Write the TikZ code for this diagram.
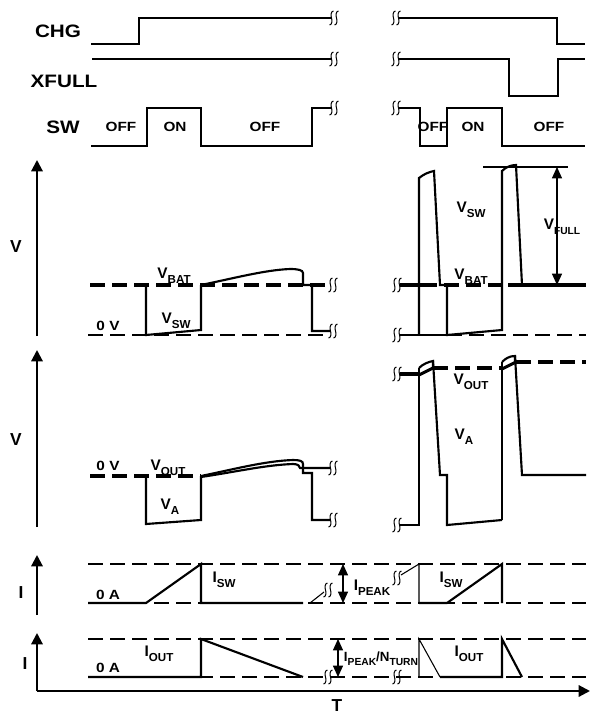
\documentclass[tikz,border=0pt]{standalone}
\usepackage{fontspec}
\setmainfont{Liberation Sans}
\newfontfamily\wf{Liberation Sans}[FakeStretch=1.15]
\usetikzlibrary{arrows.meta}
\newcommand{\sbx}[1]{\raisebox{-0.3em}{\fontsize{8.7}{9}\selectfont #1}}
\newcommand{\sbs}[1]{\raisebox{-0.3em}{\fontsize{7.7}{8}\selectfont #1}}
\tikzset{
  wave/.style={line width=1.6pt},
  thinw/.style={line width=0.8pt},
  dsh/.style={line width=1.5pt, dash pattern=on 11.5pt off 5pt},
  dshthick/.style={line width=2.3pt, dash pattern=on 11.5pt off 5pt},
  big/.style={font=\wf\bfseries\fontsize{13.5}{14}\selectfont, inner sep=0pt},
  axl/.style={font=\bfseries\fontsize{13}{14}\selectfont, inner sep=0pt},
  lbl/.style={font=\bfseries\fontsize{11.5}{12}\selectfont, inner sep=0pt},
  sml/.style={font=\wf\bfseries\fontsize{10}{11}\selectfont, inner sep=0pt},
  tip/.style={-{Triangle[length=8.5pt,width=8.5pt]}},
  dtip/.style={{Triangle[length=8.5pt,width=7.5pt]}-{Triangle[length=8.5pt,width=7.5pt]}},
  brk/.pic={
    \draw[line width=0.75pt] (-4.5,7) .. controls (-2,7) and (-1.6,2.5) .. (-2.5,0) .. controls (-3.4,-2.5) and (-3,-7) .. (-0.5,-7);
    \draw[line width=0.75pt] (0.5,7) .. controls (3,7) and (3.4,2.5) .. (2.5,0) .. controls (1.6,-2.5) and (2,-7) .. (4.5,-7);
  }
}
\begin{document}
\begin{tikzpicture}[x=0.75pt,y=-0.75pt,line join=miter]
\useasboundingbox (0,0) rectangle (590,715);

% ---------- top logic signals ----------
\node[big] (lchg) at (58,31) {CHG};
\node[big] (lxf) at (64,81) {XFULL};
\node[big] (lsw) at (63,127) {SW};
\draw[wave] (91,44) -- (139,44) -- (139,18) -- (331,18);
\draw[wave] (399,18) -- (557,18) -- (557,44) -- (585,44);
\draw[wave] (92,59) -- (331,59);
\draw[wave] (399,59) -- (509,59) -- (509,96) -- (558,96) -- (558,59) -- (585,59);
\draw[wave] (91,146) -- (147,146) -- (147,108) -- (201,108) -- (201,146) -- (312,146) -- (312,108) -- (331,108);
\draw[wave] (399,108) -- (420,108) -- (420,146) -- (447,146) -- (447,108) -- (502,108) -- (502,146) -- (585,146);
\foreach \yy in {18,59,108}{
  \pic at (334,\yy) {brk};
  \pic at (396,\yy) {brk};
}
\node[sml] (o1) at (121,127) {OFF};
\node[sml] (n1) at (175,127) {ON};
\node[sml] (o2) at (265,127) {OFF};
\node[sml] (o3) at (433,127) {OFF};
\node[sml] (n2) at (473,127) {ON};
\node[sml] (o4) at (549,127) {OFF};

% ---------- upper V panel ----------
\draw[wave,tip] (37,336) -- (37,160);
\node[axl] (lv1) at (16,247) {V};
\draw[dshthick] (90,285) -- (326,285);
\draw[dsh] (88,335) -- (326,335);
\draw[wave] (146,285) -- (146,335) -- (201,330) -- (201,285);
\draw[wave] (201,285) .. controls (235,278) and (265,270) .. (290,269) .. controls (298,269) and (303,270) .. (303,273) -- (303,285) -- (312,285) -- (312,331) -- (330,331);
\pic at (333,285) {brk};
\pic at (333,331) {brk};
\node[lbl] (vbat1) at (174,276) {V\sbx{BAT}};
\node[lbl] (vsw1) at (176,321) {V\sbx{SW}};
\node[sml] (zv1) at (108,326) {0 V};

\pic at (397,285) {brk};
\pic at (397,335) {brk};
\draw[line width=2.3pt] (400,285) -- (422,285);
\draw[dshthick] (422,285) -- (508,285);
\draw[line width=2.3pt] (508,285) -- (586,285);
\draw[dsh] (447,335) -- (586,335);
\draw[wave] (400,335) -- (447,335);
\draw[wave] (419,335) -- (419,178) .. controls (424,174) and (429,172) .. (434,171) -- (440,285) -- (447,285) -- (447,335) -- (502,330) -- (502,171) .. controls (506,167) and (511,165) .. (516,165) -- (522,285);
\draw[thinw] (483,167) -- (568,167);
\draw[thinw,dtip] (557,167) -- (557,285);
\node[lbl] (vsw2) at (471,210) {V\sbx{SW}};
\node[lbl] (vbat2) at (471,277) {V\sbx{BAT}};
\node[lbl] (vfull) at (562,227) {V\sbs{FULL}};

% ---------- lower V panel ----------
\draw[wave,tip] (37,527) -- (37,350);
\node[axl] (lv2) at (16,440) {V};
\draw[dshthick] (90,476) -- (201,476);
\draw[wave] (146,476) -- (146,524) -- (201,520) -- (201,476);
\draw[wave] (201,476) .. controls (235,469) and (265,461) .. (293,460) .. controls (300,460) and (303,461) .. (303,464) -- (303,473) -- (312,473) -- (312,520) -- (330,520);
\draw[wave] (201,477) .. controls (235,472) and (265,465) .. (293,464) .. controls (298,464) and (300,466) .. (300,468) -- (330,468);
\pic at (333,468) {brk};
\pic at (333,520) {brk};
\node[sml] (zv2) at (108,466) {0 V};
\node[lbl] (vout1) at (168,468) {V\sbx{OUT}};
\node[lbl] (va1) at (170,507) {V\sbx{A}};

\pic at (397,374) {brk};
\pic at (397,525) {brk};
\draw[line width=2.3pt] (400,374) -- (419,374);
\draw[wave] (400,525) -- (419,525) -- (419,368);
\draw[wave] (419,368) .. controls (423,364) and (428,362) .. (433,361) -- (433,368);
\draw[line width=2.3pt] (419,375) -- (433,368);
\draw[dshthick] (433,368) -- (502,368);
\draw[thinw] (502,520) -- (502,362);
\draw[wave] (502,362) .. controls (506,358) and (510,356) .. (515,356) -- (515,362);
\draw[line width=2.3pt] (502,369) -- (516,362);
\draw[dshthick] (516,362) -- (586,362);
\draw[wave] (433,361) -- (440,475) -- (447,475) -- (447,525) -- (502,520);
\draw[wave] (515,356) -- (522,475) -- (586,475);
\node[lbl] (vout2) at (471,382) {V\sbx{OUT}};
\node[lbl] (va2) at (464,437) {V\sbx{A}};

% ---------- I_SW panel ----------
\draw[wave,tip] (37,615) -- (37,555);
\node[axl] (li1) at (21,593) {I};
\draw[dsh] (88,564) -- (586,564);
\draw[dsh] (88,603) -- (586,603);
\draw[wave] (88,603) -- (146,603) -- (201,564) -- (201,603) -- (303,603);
\draw[thinw] (310,603) -- (324,592);
\pic at (328,590) {brk};
\draw[thinw,dtip] (343,564) -- (343,603);
\pic at (397,578) {brk};
\draw[thinw] (401,575) -- (419,564) -- (419,603);
\draw[wave] (419,603) -- (447,603) -- (502,564) -- (502,603);
\node[sml] (za1) at (108,595) {0 A};
\node[lbl] (isw1) at (224,580) {I\sbx{SW}};
\node[lbl] (isw2) at (451,580) {I\sbx{SW}};
\node[lbl] (ipk) at (372,588) {I\sbx{PEAK}};

% ---------- I_OUT panel ----------
\draw[wave,tip] (37,691) -- (37,633);
\draw[wave,tip] (37,691) -- (590,691);
\node[axl] (li2) at (25,664) {I};
\draw[dsh] (88,639) -- (586,639);
\draw[dsh] (88,677) -- (586,677);
\draw[wave] (88,677) -- (201,677) -- (201,639) -- (303,677);
\pic at (328,677) {brk};
\pic at (397,677) {brk};
\draw[thinw,dtip] (338,639) -- (338,677);
\draw[thinw] (419,677) -- (419,639) -- (440,677);
\draw[wave] (440,677) -- (502,677) -- (502,639) -- (522,677);
\node[sml] (za2) at (108,668) {0 A};
\node[lbl] (iout1) at (159,654) {I\sbx{OUT}};
\node[lbl] (iout2) at (469,654) {I\sbx{OUT}};
\node[font=\bfseries\fontsize{10}{11}\selectfont, inner sep=0pt] (ipn) at (381,659) {I\sbs{PEAK}/N\sbs{TURN}};
\node[axl] (lt) at (337,706) {T};
\end{tikzpicture}
\end{document}
